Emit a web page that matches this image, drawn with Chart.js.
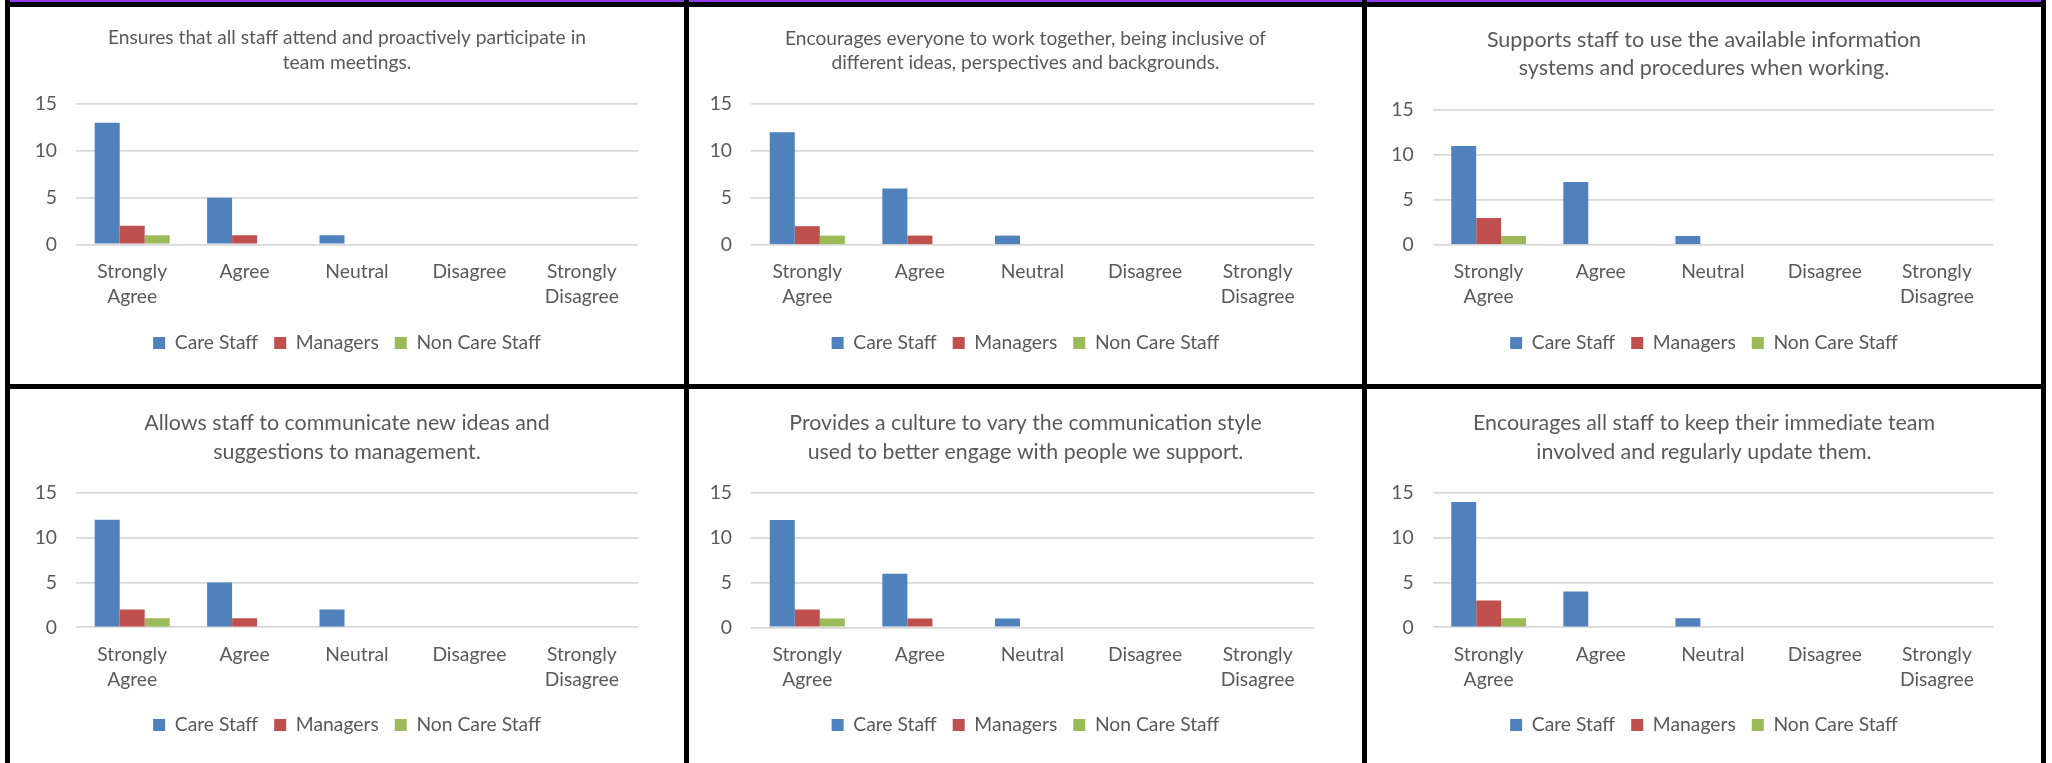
<!DOCTYPE html>
<html>
<head>
<meta charset="utf-8">
<script src="https://cdn.jsdelivr.net/npm/chart.js@4.4.1/dist/chart.umd.min.js"></script>
<style>
  html, body { margin: 0; padding: 0; background: #fff; }
  #page { position: relative; width: 2052px; height: 763px; overflow: hidden; background: #fff; }
  .rule { position: absolute; background: #000; }
  .accent { position: absolute; background: #8c3cf2; }
  .cell { position: absolute; }
  canvas { display: block; }
</style>
</head>
<body>
<div id="page">
  <div class="accent" style="left:10px;top:0;width:2031px;height:2px"></div>
  <div class="rule" style="left:5px;top:2px;width:2041px;height:5px"></div>
  <div class="rule" style="left:5px;top:384px;width:2041px;height:5px"></div>
  <div class="rule" style="left:5px;top:0;width:5px;height:763px"></div>
  <div class="rule" style="left:684px;top:0;width:5px;height:763px"></div>
  <div class="rule" style="left:1362px;top:0;width:5px;height:763px"></div>
  <div class="rule" style="left:2041px;top:0;width:5px;height:763px"></div>

  <div class="cell" style="left:10px;top:7px"><canvas id="c0" width="674" height="377"></canvas></div>
  <div class="cell" style="left:689px;top:7px"><canvas id="c1" width="673" height="377"></canvas></div>
  <div class="cell" style="left:1367px;top:7px"><canvas id="c2" width="674" height="377"></canvas></div>
  <div class="cell" style="left:10px;top:389px"><canvas id="c3" width="674" height="374"></canvas></div>
  <div class="cell" style="left:689px;top:389px"><canvas id="c4" width="673" height="374"></canvas></div>
  <div class="cell" style="left:1367px;top:389px"><canvas id="c5" width="674" height="374"></canvas></div>
</div>

<script>
// Response scale shown on every chart's x axis
const categories = [['Strongly', 'Agree'], ['Agree'], ['Neutral'], ['Disagree'], ['Strongly', 'Disagree']];

// Staff groups, one bar series each
const seriesNames = ['Care Staff', 'Managers', 'Non Care Staff'];

// Value axis ticks
const yTickValues = [0, 5, 10, 15];

// Survey statements, already broken into their two title lines
const titles = [
  ['Ensures that all staff attend and proactively participate in', 'team meetings.'],
  ['Encourages everyone to work together, being inclusive of', 'different ideas, perspectives and backgrounds.'],
  ['Supports staff to use the available information', 'systems and procedures when working.'],
  ['Allows staff to communicate new ideas and', 'suggestions to management.'],
  ['Provides a culture to vary the communication style', 'used to better engage with people we support.'],
  ['Encourages all staff to keep their immediate team', 'involved and regularly update them.']
];

// Number of responses per statement (rows) and answer (columns)
const careStaffCounts = [
  [13, 5, 1, 0, 0],
  [12, 6, 1, 0, 0],
  [11, 7, 1, 0, 0],
  [12, 5, 2, 0, 0],
  [12, 6, 1, 0, 0],
  [14, 4, 1, 0, 0]
];
const managerCounts = [
  [2, 1, 0, 0, 0],
  [2, 1, 0, 0, 0],
  [3, 0, 0, 0, 0],
  [2, 1, 0, 0, 0],
  [2, 1, 0, 0, 0],
  [3, 0, 0, 0, 0]
];
const nonCareStaffCounts = [
  [1, 0, 0, 0, 0],
  [1, 0, 0, 0, 0],
  [1, 0, 0, 0, 0],
  [1, 0, 0, 0, 0],
  [1, 0, 0, 0, 0],
  [1, 0, 0, 0, 0]
];

// ---- styling and per-panel geometry ----
const TEXT = '#595959';
const GRID = '#d9d9d9';
const COLORS = ['#4f81bd', '#c0504d', '#9bbb59'];
const FONT = 'Lato';
const AXIS_SIZE = 19.3;
const CAT_LH = 25;
const LEGEND_PAD = 16;
const BOX = 12;

// panel layout in canvas pixels: title line centre / spacing, plot box, first x-label line, legend line
const panels = [
  { w: 674, h: 377, tSize: 19.2, tY: 31,   tLH: 25,   top: 97,  bottom: 237.5, left: 66,   right: 628, catY: 265,   legY: 336 },
  { w: 673, h: 377, tSize: 19.2, tY: 31.5, tLH: 24.5, top: 97,  bottom: 238,   left: 62,   right: 625, catY: 265,   legY: 336 },
  { w: 674, h: 377, tSize: 21.5, tY: 33,   tLH: 28,   top: 103, bottom: 238,   left: 65.6, right: 626, catY: 265,   legY: 336 },
  { w: 674, h: 374, tSize: 21.4, tY: 34.3, tLH: 28.4, top: 104, bottom: 238.3, left: 66,   right: 628, catY: 265.3, legY: 336 },
  { w: 673, h: 374, tSize: 21.3, tY: 34.3, tLH: 28.4, top: 104, bottom: 238.5, left: 62,   right: 625, catY: 265.5, legY: 336 },
  { w: 674, h: 374, tSize: 21.4, tY: 34.3, tLH: 28.6, top: 104, bottom: 238.3, left: 65.6, right: 626, catY: 265.3, legY: 336 }
];

function buildChart(idx) {
  const g = panels[idx];
  const legendTop = g.legY - LEGEND_PAD - AXIS_SIZE / 2;
  const legendH = AXIS_SIZE + LEGEND_PAD + 10;
  const padBottom = g.h - legendTop - legendH;
  const titleTop = g.tY - g.tLH / 2;
  const titleBottomPad = g.top - titleTop - 2 * g.tLH;
  const xAxisH = legendTop - g.bottom;
  const xTickPad = g.catY - g.bottom - CAT_LH / 2;

  const counts = [careStaffCounts[idx], managerCounts[idx], nonCareStaffCounts[idx]];

  return new Chart(document.getElementById('c' + idx), {
    type: 'bar',
    data: {
      labels: categories,
      datasets: seriesNames.map((name, s) => ({
        label: name,
        data: counts[s],
        backgroundColor: COLORS[s],
        borderWidth: 0,
        categoryPercentage: 0.667,
        barPercentage: 1,
        yAxisID: 'y'
      }))
    },
    options: {
      responsive: false,
      animation: false,
      devicePixelRatio: 1,
      layout: { padding: { top: 0, left: 0, right: 0, bottom: padBottom } },
      plugins: {
        tooltip: { enabled: false },
        title: {
          display: true,
          text: titles[idx],
          color: TEXT,
          font: { family: FONT, size: g.tSize, weight: 'normal', lineHeight: g.tLH / g.tSize },
          padding: { top: titleTop, bottom: titleBottomPad }
        },
        legend: {
          display: true,
          position: 'bottom',
          labels: {
            color: TEXT,
            font: { family: FONT, size: AXIS_SIZE },
            boxWidth: BOX,
            boxHeight: BOX,
            padding: LEGEND_PAD
          }
        }
      },
      scales: {
        x: {
          grid: { display: false, drawTicks: false },
          border: { display: false },
          ticks: {
            color: TEXT,
            font: { family: FONT, size: AXIS_SIZE, lineHeight: CAT_LH / AXIS_SIZE },
            padding: xTickPad,
            maxRotation: 0,
            autoSkip: false
          },
          afterFit: s => { s.height = xAxisH; }
        },
        y: {
          min: yTickValues[0],
          max: yTickValues[yTickValues.length - 1],
          grid: { color: GRID, lineWidth: 1.8, drawTicks: false },
          border: { display: false },
          ticks: {
            stepSize: yTickValues[1] - yTickValues[0],
            color: TEXT,
            font: { family: FONT, size: AXIS_SIZE },
            padding: 19
          },
          afterFit: s => { s.width = g.left; }
        },
        gutter: {
          type: 'linear',
          position: 'right',
          display: true,
          grid: { display: false, drawTicks: false },
          border: { display: false },
          ticks: { display: false },
          afterFit: s => { s.width = g.w - g.right; }
        }
      }
    }
  });
}

for (let i = 0; i < panels.length; i++) buildChart(i);
</script>
</body>
</html>
